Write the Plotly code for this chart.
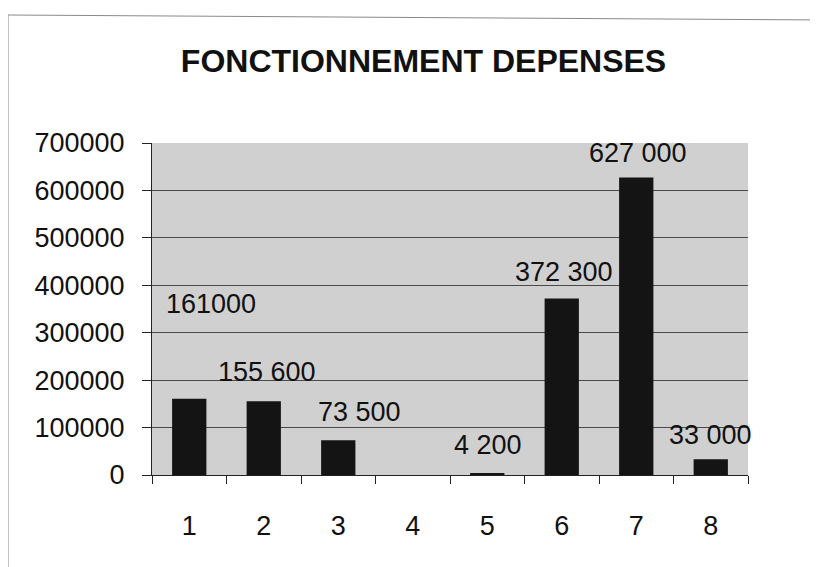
import plotly.graph_objects as go

categories = ["1", "2", "3", "4", "5", "6", "7", "8"]
values = [161000, 155600, 73500, 0, 4200, 372300, 627000, 33000]
value_labels = ["161000", "155 600", "73 500", "", "4 200", "372 300", "627 000", "33 000"]
y_ticks = [0, 100000, 200000, 300000, 400000, 500000, 600000, 700000]
grid_ticks = [100000, 200000, 300000, 400000, 500000, 600000]

# label offsets (px) relative to the top of each bar
label_dx = [22, 3, 21, 0, 1, 2, 2, 0]
label_dy = [95, 29, 28, 0, 28, 26, 25, 24]

FONT = "Liberation Sans, Arial, sans-serif"
INK = "#111111"

fig = go.Figure()
fig.add_trace(go.Bar(
    x=categories, y=values,
    marker=dict(color="#141414", line=dict(width=0)),
    hoverinfo="x+y", showlegend=False,
))
# invisible helper trace to carry the gridline axis
fig.add_trace(go.Scatter(
    x=categories, y=values, yaxis="y2", mode="markers",
    marker=dict(opacity=0), hoverinfo="skip", showlegend=False,
))

for i, (v, t, dx, dy) in enumerate(zip(values, value_labels, label_dx, label_dy)):
    if not t:
        continue
    fig.add_annotation(
        x=i, y=v, text=t, showarrow=False,
        xanchor="center", yanchor="middle",
        xshift=dx, yshift=dy,
        font=dict(family=FONT, size=27, color=INK),
    )

# page frame (scanned sheet border)
fig.add_shape(
    type="path", xref="paper", yref="paper",
    path="M -0.2416 -0.30 L -0.2416 1.3855 L 1.13 1.3705",
    line=dict(color="#8a8a8a", width=1),
)

fig.update_layout(
    width=810, height=559,
    margin=dict(l=144, r=70, t=135, b=92),
    paper_bgcolor="white",
    plot_bgcolor="#d0d0d0",
    bargap=0.54,
    title=dict(
        text="<b>FONCTIONNEMENT DEPENSES</b>",
        font=dict(family=FONT, size=32, color=INK),
        x=0.513, xref="container", xanchor="center",
        y=0.905, yref="container", yanchor="middle",
    ),
    xaxis=dict(
        type="category", categoryorder="array", categoryarray=categories,
        range=[-0.5, 7.5],
        showline=True, linecolor="#222222", linewidth=1,
        ticks="outside", ticklen=8, tickcolor="#222222", tickwidth=1,
        tickson="boundaries",
        ticklabelstandoff=27,
        tickfont=dict(family=FONT, size=27, color=INK),
        showgrid=False, zeroline=False,
    ),
    yaxis=dict(
        range=[0, 700000], tickvals=y_ticks, tickformat="d",
        showline=True, linecolor="#222222", linewidth=1,
        ticks="outside", ticklen=9, tickcolor="#222222", tickwidth=1,
        ticklabelstandoff=12,
        tickfont=dict(family=FONT, size=27, color=INK),
        showgrid=False, zeroline=False,
    ),
    yaxis2=dict(
        overlaying="y", range=[0, 700000], tickvals=grid_ticks,
        showgrid=True, gridcolor="#4a4a4a", gridwidth=1,
        showticklabels=False, ticks="", showline=False, zeroline=False,
    ),
)

fig.write_html("out.html")
